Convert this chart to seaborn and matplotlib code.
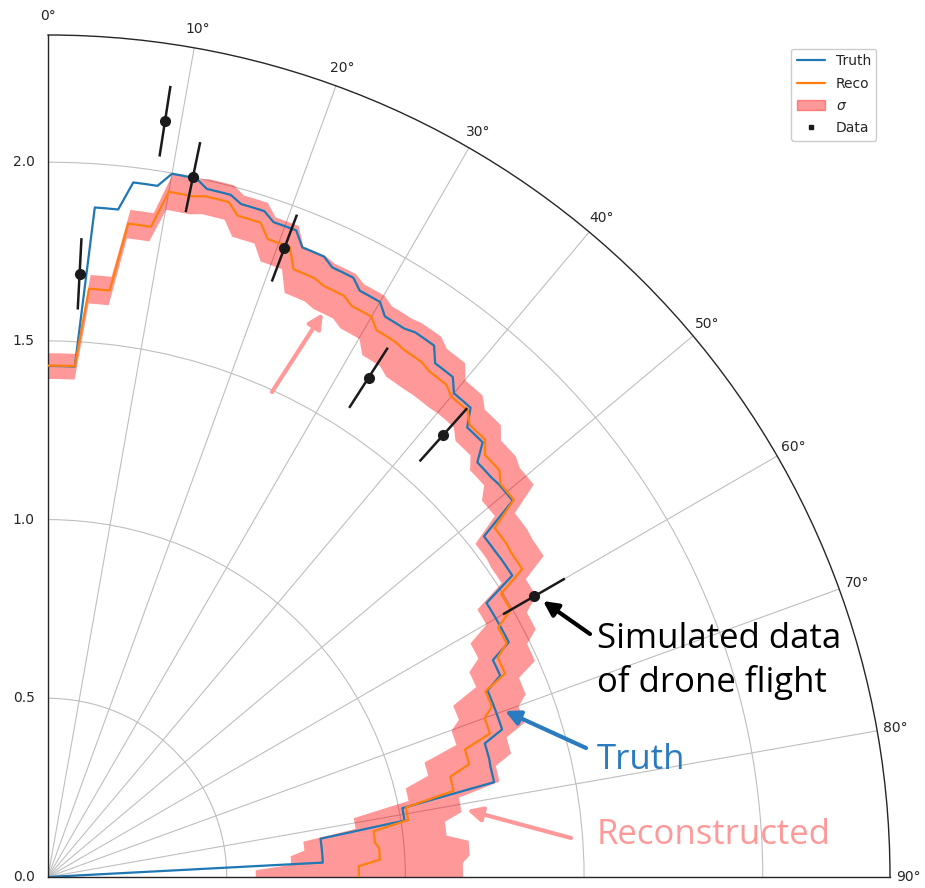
import numpy as np
import pandas as pd
import matplotlib
matplotlib.use("Agg")
import matplotlib.pyplot as plt
import seaborn as sns
from matplotlib.lines import Line2D
from matplotlib.patches import Patch

sns.set_theme(style="whitegrid")
plt.rcParams.update({
    "axes.edgecolor": "0.15",
    "grid.color": "0.75",
    "grid.linewidth": 0.8,
    "xtick.color": "0.15",
    "ytick.color": "0.15",
    "font.size": 10,
})

# Per-bin radius of the flight path (3 degree bins from 0 to 90 degrees)
truth_r = [1.43, 1.878, 1.958, 1.998, 1.976, 1.959, 1.938, 1.90, 1.882, 1.858,
           1.83, 1.838, 1.80, 1.767, 1.72, 1.67, 1.673, 1.548, 1.549, 1.447,
           1.447, 1.385, 1.336, 1.336, 1.278, 1.276, 1.01, 0.77, 0.77, 0.0]
reco_r = [1.431, 1.65, 1.842, 1.947, 1.955, 1.925, 1.888, 1.834, 1.825, 1.81,
          1.785, 1.78, 1.772, 1.755, 1.73, 1.70, 1.677, 1.586, 1.582, 1.495,
          1.44, 1.40, 1.33, 1.30, 1.22, 1.16, 1.02, 0.92, 0.93, 0.87]
sigma_r = [0.036, 0.04, 0.04, 0.05, 0.05, 0.06, 0.065, 0.07, 0.07, 0.07,
           0.08, 0.09, 0.08, 0.06, 0.06, 0.06, 0.07, 0.07, 0.07, 0.08,
           0.09, 0.09, 0.10, 0.10, 0.12, 0.13, 0.15, 0.20, 0.25, 0.29]

# Measured points with radial uncertainty
data_theta = [3.0, 8.8, 11.7, 20.6, 32.7, 41.8, 60.0]
data_r = [1.69, 2.14, 2.00, 1.88, 1.66, 1.66, 1.57]
data_err = [0.10, 0.10, 0.10, 0.10, 0.10, 0.10, 0.10]

# Sample every degree; each bin covers three samples (first bin also holds 0)
theta_deg = np.arange(0, 91)
samples_per_bin = [4] + [3] * 29
df = pd.DataFrame({
    "theta": np.radians(theta_deg),
    "Truth": np.repeat(truth_r, samples_per_bin),
    "Reco": np.repeat(reco_r, samples_per_bin),
    "sigma": np.repeat(sigma_r, samples_per_bin),
})

fig = plt.figure(figsize=(9.25, 8.88), dpi=100)
ax = fig.add_axes([48 / 925, 11 / 888, 842 / 925, 842 / 888], projection="polar")
ax.set_theta_zero_location("N")
ax.set_theta_direction(-1)
ax.set_thetamin(0)
ax.set_thetamax(90)

ax.fill_between(df["theta"], df["Reco"] - df["sigma"], df["Reco"] + df["sigma"],
                color="red", alpha=0.4, linewidth=0, zorder=2)
sns.lineplot(data=df, x="theta", y="Truth", ax=ax, color="#1f77b4",
             linewidth=1.6, sort=False, zorder=2.5)
sns.lineplot(data=df, x="theta", y="Reco", ax=ax, color="#ff7f0e",
             linewidth=1.6, sort=False, zorder=3)
ax.errorbar(np.radians(data_theta), data_r, yerr=data_err, fmt="o", color="k",
            markersize=7, elinewidth=1.8, capsize=0, zorder=4)

ax.set_rlim(0, 2.356)
ax.set_rticks([0.0, 0.5, 1.0, 1.5, 2.0])
ax.set_yticklabels(["0.0", "0.5", "1.0", "1.5", "2.0"])
ax.set_thetagrids(range(0, 91, 10), [f"{d}°" for d in range(0, 91, 10)])
ax.set_xlabel("")
ax.set_ylabel("")
ax.tick_params(labelsize=10, colors="0.15")
ax.tick_params(axis="x", pad=0.5)
for sp in ax.spines.values():
    sp.set_color("0.15")
    sp.set_linewidth(1.0)

handles = [
    Line2D([], [], color="#1f77b4", linewidth=1.6),
    Line2D([], [], color="#ff7f0e", linewidth=1.6),
    Patch(facecolor="red", alpha=0.4, edgecolor="red"),
    Line2D([], [], marker="s", color="k", linestyle="none", markersize=3),
]
ax.legend(handles, ["Truth", "Reco", r"$\sigma$", "Data"], loc="upper right",
          bbox_to_anchor=(0.955, 0.953), bbox_transform=fig.transFigure,
          fontsize=10, frameon=True, framealpha=1.0, edgecolor="0.8",
          labelspacing=0.6)

H = 888
note_font = dict(family="Open Sans", fontsize=25)
arrow_kw = dict(arrowstyle="-|>", lw=3, mutation_scale=22, shrinkA=0, shrinkB=0)

fig.text(597, H - 661, "Simulated data\nof drone flight", ha="left", va="center",
         color="black", linespacing=1.3, transform=None, **note_font)
ax.annotate("", xy=(543, H - 601), xytext=(590, H - 634), xycoords="figure pixels",
            textcoords="figure pixels", arrowprops=dict(color="black", **arrow_kw))

fig.text(597, H - 760, "Truth", ha="left", va="center", color="#2a7bbf",
         transform=None, **note_font)
ax.annotate("", xy=(505, H - 711), xytext=(586, H - 748), xycoords="figure pixels",
            textcoords="figure pixels", arrowprops=dict(color="#2a7bbf", **arrow_kw))

fig.text(597, H - 835, "Reconstructed", ha="left", va="center", color="#ff9999",
         transform=None, **note_font)
ax.annotate("", xy=(467, H - 810), xytext=(571, H - 838), xycoords="figure pixels",
            textcoords="figure pixels", arrowprops=dict(color="#ff9999", **arrow_kw))
ax.annotate("", xy=(323, H - 313), xytext=(272, H - 392), xycoords="figure pixels",
            textcoords="figure pixels", arrowprops=dict(color="#ff9999", **arrow_kw))

fig.savefig("out.png", dpi=100)
